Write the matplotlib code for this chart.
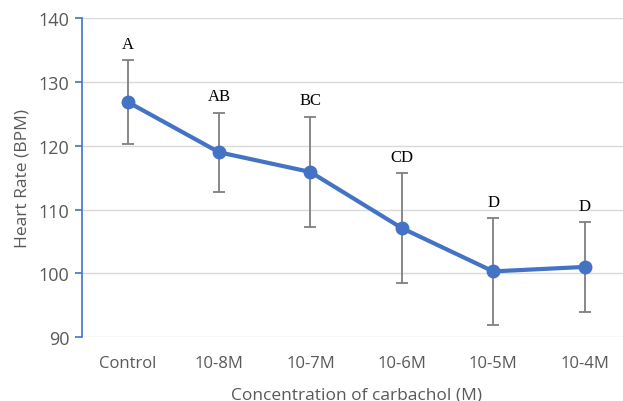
import matplotlib.pyplot as plt

# data
groups = ["Control", "10-8M", "10-7M", "10-6M", "10-5M", "10-4M"]
heart_rate = [126.9, 119.0, 115.9, 107.1, 100.3, 101.0]
err = [6.6, 6.2, 8.7, 8.6, 8.4, 7.0]
letters = ["A", "AB", "BC", "CD", "D", "D"]
yticks = [90, 100, 110, 120, 130, 140]

blue = "#4472C4"
gray_txt = "#595959"

fig = plt.figure(figsize=(6.23, 4.02), dpi=100)
ax = fig.add_axes([0.1316, 0.1592, 0.88, 0.7923])

x = list(range(len(groups)))

# error bars first, then the line on top
ax.errorbar(x, heart_rate, yerr=err, fmt="none", ecolor="#7f7f7f",
            elinewidth=1.3, capsize=4, capthick=1.3, zorder=2)
ax.plot(x, heart_rate, color=blue, linewidth=3, marker="o",
        markersize=9, zorder=3)

# significance letters above each error bar
for xi, yi, e, lab in zip(x, heart_rate, err, letters):
    ax.annotate(lab, (xi, yi + e), xytext=(0, 6), textcoords="offset points",
                ha="center", va="bottom", fontsize=12,
                family="Liberation Serif", color="black")

ax.set_xlim(-0.5, 5.5)
ax.set_ylim(90, 140)
ax.set_yticks(yticks)
ax.set_xticks(x)
ax.set_xticklabels(groups)

ax.grid(axis="y", color="#d9d9d9", linewidth=1)
ax.set_axisbelow(True)
for s in ["top", "right", "bottom"]:
    ax.spines[s].set_visible(False)
ax.spines["left"].set_color(blue)
ax.spines["left"].set_linewidth(1.2)

ax.tick_params(axis="y", colors=blue, length=5, width=1.2, labelsize=13,
               labelcolor=gray_txt, pad=4)
ax.tick_params(axis="x", length=0, labelsize=12, labelcolor=gray_txt, pad=13)
for t in ax.get_xticklabels() + ax.get_yticklabels():
    t.set_family("Open Sans")

ax.set_ylabel("Heart Rate (BPM)", fontsize=12.5, color=gray_txt,
              family="Open Sans", labelpad=6)
ax.set_xlabel("Concentration of carbachol (M)", fontsize=12.5, color=gray_txt,
              family="Open Sans", labelpad=11)

fig.savefig("out.png", dpi=100)
